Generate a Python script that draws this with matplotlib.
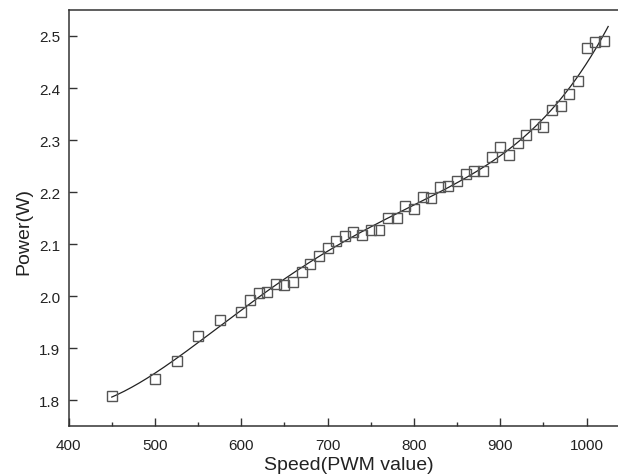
import matplotlib
matplotlib.use('Agg')
import matplotlib.pyplot as plt
import numpy as np
from matplotlib.ticker import MultipleLocator, FormatStrFormatter

plt.rcParams['font.family'] = ['Liberation Sans', 'DejaVu Sans']

# measured points (speed as PWM value, power in W)
speed = [450, 500, 525, 550, 575, 600, 610, 620, 630, 640, 650, 660, 670, 680,
         690, 700, 710, 720, 730, 740, 750, 760, 770, 780, 790, 800, 810, 820,
         830, 840, 850, 860, 870, 880, 890, 900, 910, 920, 930, 940, 950, 960,
         970, 980, 990, 1000, 1010, 1020]
power = [1.809, 1.841, 1.875, 1.923, 1.955, 1.969, 1.993, 2.006, 2.009, 2.024,
         2.022, 2.028, 2.046, 2.062, 2.077, 2.092, 2.107, 2.115, 2.124, 2.118,
         2.127, 2.127, 2.151, 2.150, 2.174, 2.168, 2.190, 2.188, 2.210, 2.212,
         2.222, 2.234, 2.240, 2.240, 2.268, 2.286, 2.272, 2.294, 2.310, 2.330,
         2.325, 2.358, 2.366, 2.388, 2.413, 2.477, 2.489, 2.491]

# polynomial fit line through the points
coef = np.polyfit(speed, power, 4)
xfit = np.linspace(450, 1025, 200)
yfit = np.polyval(coef, xfit)

fig = plt.figure(figsize=(6.18, 4.77), dpi=100)
ax = fig.add_axes([0.111, 0.104, 0.908, 0.873])

ax.plot(xfit, yfit, color='#222222', lw=0.9)
ax.plot(speed, power, linestyle='none', marker='s', markersize=7.8,
        markerfacecolor='none', markeredgecolor='#555555', markeredgewidth=1.0)

ax.set_xlim(400, 1050)
ax.set_ylim(1.75, 2.55)
ax.xaxis.set_major_locator(MultipleLocator(100))
ax.xaxis.set_minor_locator(MultipleLocator(50))
ax.yaxis.set_major_locator(MultipleLocator(0.1))
ax.yaxis.set_major_formatter(FormatStrFormatter('%.1f'))

ax.tick_params(which='major', direction='in', length=5.5, width=1.0,
               colors='#333333', labelsize=11, labelcolor='#222222', pad=6)
ax.tick_params(axis='x', which='major', pad=8)
ax.tick_params(which='minor', direction='in', length=3, width=1.0, colors='#333333')
for s in ax.spines.values():
    s.set_color('#333333')
    s.set_linewidth(1.1)

ax.set_xlabel('Speed(PWM value)', fontsize=14, color='#222222', labelpad=3)
ax.set_ylabel('Power(W)', fontsize=14, color='#222222')
ax.yaxis.set_label_coords(-0.065, 0.47)

fig.savefig('out.png', dpi=100)
